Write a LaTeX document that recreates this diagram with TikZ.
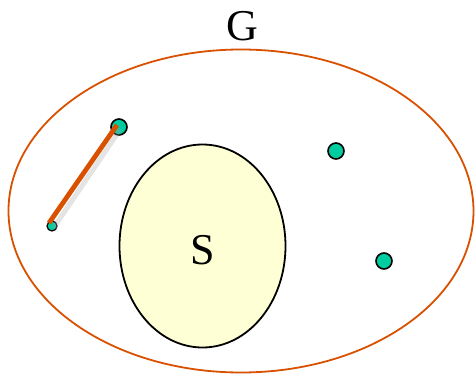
\documentclass[tikz,border=0pt]{standalone}
\usepackage{fontspec}
\setmainfont{Liberation Serif}
\usetikzlibrary{shapes.geometric}
\definecolor{graphorange}{RGB}{216,80,0}
\definecolor{vertexteal}{RGB}{0,204,160}
\definecolor{setyellow}{RGB}{255,255,213}
\tikzset{
    vertex/.style={circle, draw, fill=vertexteal, line width=1.6pt, inner sep=0pt, minimum size=16pt},
    small vertex/.style={vertex, minimum size=10pt, line width=1.2pt},
    region/.style={ellipse, draw, inner sep=0pt, line width=1.8pt},
    big label/.style={font=\fontsize{44}{44}\selectfont, inner sep=0pt},
    edge/.style={draw=graphorange, line width=4.8pt},
    shadow/.style={draw=black!35, line width=5pt, opacity=0.3}
}

\begin{document}
\begin{tikzpicture}[x=1pt, y=-1pt]
    \useasboundingbox (0,0) rectangle (475,375);
    % Regions
    \node[region, draw=graphorange, minimum width=465pt, minimum height=323pt] (Gset) at (241,211) {};
    \node[region, draw=black, fill=setyellow, minimum width=166pt, minimum height=203pt] (Sset) at (202.5,246) {};
    \node[big label] (Slabel) at (203,250) {S};
    \node[big label] (Glabel) at (242,26) {G};

    % Vertices
    \node[vertex] (a) at (119,127) {};
    \node[small vertex] (b) at (52,226) {};
    \node[vertex] (c) at (336,151) {};
    \node[vertex] (d) at (384,261) {};

    % edge
    \draw[shadow] ([shift={(1.5,2)}]b.center) -- ([shift={(1.5,2)}]a.center);
    \draw[edge] ([shift={(-3,-3)}]b.center) -- ([shift={(-2,-2)}]a.center);
\end{tikzpicture}
\end{document}
